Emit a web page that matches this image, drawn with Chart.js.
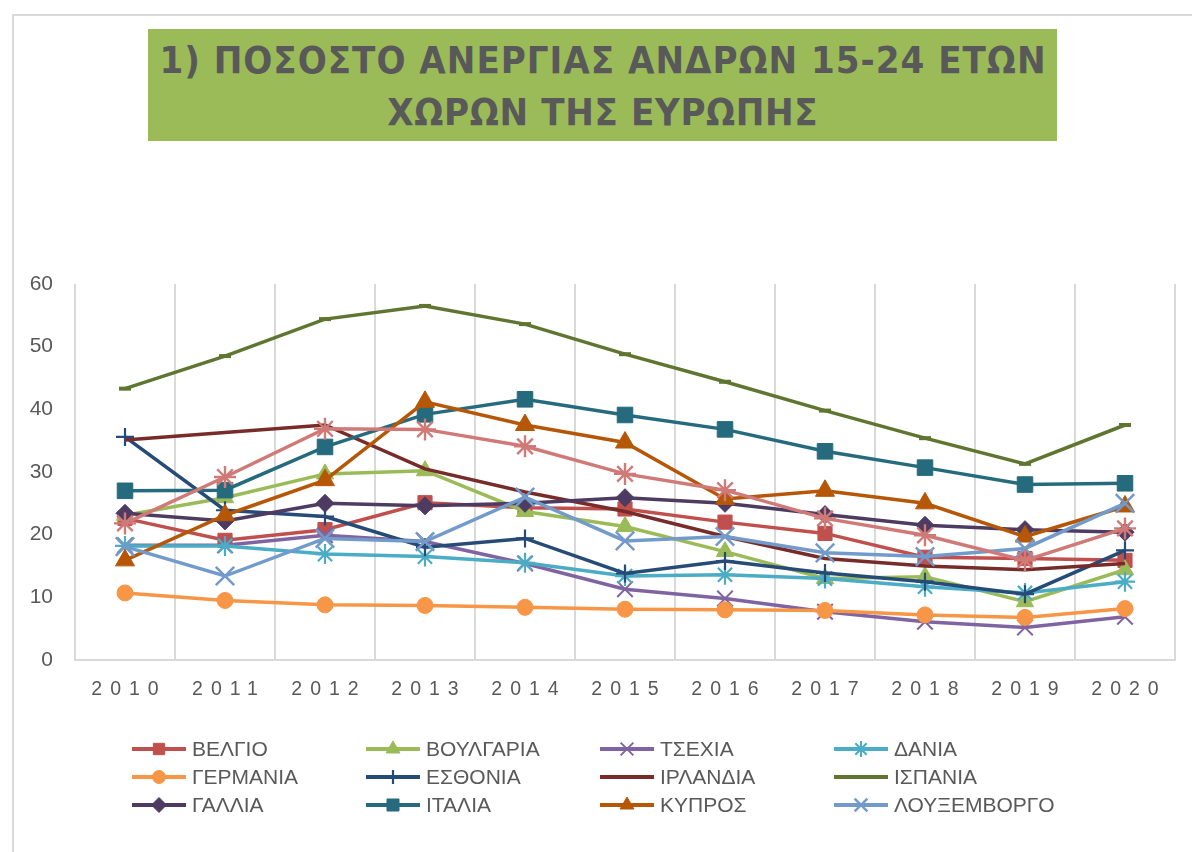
<!DOCTYPE html>
<html>
<head>
<meta charset="utf-8">
<script src="https://cdn.jsdelivr.net/npm/chart.js@4.4.0/dist/chart.umd.min.js"></script>
<style>
  html, body { margin: 0; padding: 0; background: #ffffff; overflow: hidden; }
  #wrap { position: relative; width: 1192px; height: 852px; }
  #frame { position: absolute; left: 12px; top: 14px; width: 1300px; height: 900px; border: 2px solid #D9D9D9; box-sizing: border-box; }
  #titlebox { position: absolute; left: 148px; top: 29px; width: 909px; height: 112px; background: #9BBB59; }
  #title { position: absolute; left: 148px; top: 34px; width: 909px; text-align: center;
           font-family: "DejaVu Sans Condensed", "DejaVu Sans", sans-serif; font-stretch: condensed;
           font-weight: bold; font-size: 38px; line-height: 52px; color: #595959; white-space: nowrap; }
  #title span { display: inline-block; }
  canvas { position: absolute; left: 0; top: 0; }
</style>
</head>
<body>
<div id="wrap">
  <div id="frame"></div>
  <div id="titlebox"></div>
  <div id="title"><span id="t1">1) ΠΟΣΟΣΤΟ ΑΝΕΡΓΙΑΣ ΑΝΔΡΩΝ 15-24 ΕΤΩΝ</span><br><span id="t2">ΧΩΡΩΝ ΤΗΣ ΕΥΡΩΠΗΣ</span></div>
  <canvas id="c" width="1192" height="852"></canvas>
</div>
<script>
// ---- data ----
const years = ['2010','2011','2012','2013','2014','2015','2016','2017','2018','2019','2020'];
const yTicks = [0, 10, 20, 30, 40, 50, 60];

const belgio      = [22.6, 19.1, 20.8, 25.1, 24.3, 24.1, 22.0, 20.2, 16.4, 16.2, 15.9];
const voulgaria   = [23.1, 25.9, 29.7, 30.2, 23.7, 21.3, 17.3, 13.0, 13.3, 9.3, 14.4];
const tsexia      = [18.3, 18.3, 19.9, 18.9, 15.4, 11.3, 9.8, 7.7, 6.1, 5.2, 6.9];
const dania       = [18.2, 18.2, 16.9, 16.5, 15.5, 13.4, 13.6, 13.0, 11.7, 10.7, 12.5];
const germania    = [10.7, 9.5, 8.8, 8.7, 8.4, 8.1, 8.0, 7.9, 7.2, 6.8, 8.2];
const esthonia    = [35.6, 23.9, 22.9, 18.0, 19.4, 13.8, 15.8, 13.9, 12.5, 10.5, 17.5];
const irlandia    = [35.1, 36.3, 37.5, 30.5, 26.8, 23.7, 19.7, 16.2, 15.0, 14.4, 15.4];
const ispania     = [43.3, 48.5, 54.4, 56.5, 53.6, 48.8, 44.4, 39.8, 35.4, 31.3, 37.5];
const gallia      = [23.4, 22.2, 25.0, 24.6, 25.0, 25.9, 25.0, 23.2, 21.5, 20.8, 20.4];
const italia      = [27.0, 27.1, 34.0, 39.2, 41.6, 39.1, 36.8, 33.3, 30.7, 28.0, 28.2];
const kypros      = [15.9, 23.1, 28.7, 41.2, 37.5, 34.7, 25.7, 27.0, 25.0, 19.7, 24.5];
const louxemvorgo = [18.1, 13.4, 19.4, 18.9, 26.0, 19.0, 19.7, 17.1, 16.5, 17.8, 25.0];
const series13    = [21.8, 29.2, 36.9, 36.8, 34.1, 29.7, 27.1, 22.6, 19.9, 15.9, 21.0]; // not shown in legend

const seriesNames = ['ΒΕΛΓΙΟ','ΒΟΥΛΓΑΡΙΑ','ΤΣΕΧΙΑ','ΔΑΝΙΑ','ΓΕΡΜΑΝΙΑ','ΕΣΘΟΝΙΑ','ΙΡΛΑΝΔΙΑ','ΙΣΠΑΝΙΑ','ΓΑΛΛΙΑ','ΙΤΑΛΙΑ','ΚΥΠΡΟΣ','ΛΟΥΞΕΜΒΟΡΓΟ',''];
const seriesValues = [belgio, voulgaria, tsexia, dania, germania, esthonia, irlandia, ispania, gallia, italia, kypros, louxemvorgo, series13];

// ---- styles ----
const styles = [
  {c:'#C0504D', p:'rect',     r:10, bw:1,   lr:8},
  {c:'#9BBB59', p:'triangle', r:10, bw:1,   lr:8},
  {c:'#8064A2', p:'crossRot', r:11, bw:2,   lr:9},
  {c:'#4BACC6', p:'star',     r:10, bw:2.2, lr:8},
  {c:'#F79646', p:'circle',   r:8,  bw:1,   lr:6.5},
  {c:'#264B77', p:'cross',    r:9,  bw:2.2, lr:7},
  {c:'#772C2A', p:'circle',   r:0,  bw:0,   lr:0},
  {c:'#5F7530', p:'line',     r:6,  bw:4,   lr:0},
  {c:'#4D3B62', p:'rectRot',  r:9,  bw:1,   lr:7.5},
  {c:'#266B7D', p:'rect',     r:11, bw:1,   lr:8.5},
  {c:'#B65708', p:'triangle', r:11, bw:1,   lr:8},
  {c:'#729ACA', p:'crossRot', r:13, bw:2.5, lr:9},
  {c:'#D07A78', p:'star',     r:11, bw:2.4, lr:8}
];

const n = seriesValues.length;
const datasets = seriesValues.map((vals, i) => ({
  label: seriesNames[i],
  data: vals,
  borderColor: styles[i].c,
  backgroundColor: styles[i].c,
  pointBackgroundColor: styles[i].c,
  pointBorderColor: styles[i].c,
  pointStyle: styles[i].p,
  pointRadius: styles[i].r,
  pointHoverRadius: styles[i].r,
  pointBorderWidth: styles[i].bw,
  borderWidth: 3.5,
  tension: 0,
  fill: false,
  order: n - i
}));

const textColor = '#595959';
const axisFont = '"Liberation Sans", Arial, sans-serif';

const legendPlugin = {
  id: 'gridLegend',
  beforeDraw(chart) {
    const xs = chart.scales.x;
    if (xs && !xs._spaced) {
      const orig = xs.drawLabels.bind(xs);
      xs.drawLabels = function(area) {
        const c = this.ctx;
        c.save();
        c.letterSpacing = '8px';
        c.translate(4, 0);
        orig(area);
        c.restore();
      };
      xs._spaced = true;
    }
  },
  afterDraw(chart) {
    const ctx = chart.ctx;
    const dp = Chart.helpers && Chart.helpers.drawPoint;
    const colX = [132, 366, 600, 834];
    const rowY = [749, 777, 805];
    let k = 0;
    chart.data.datasets.forEach((ds, i) => {
      if (!ds.label) return;
      const col = k % 4, row = Math.floor(k / 4);
      k++;
      const x0 = colX[col], y = rowY[row];
      ctx.save();
      ctx.strokeStyle = ds.borderColor;
      ctx.fillStyle = ds.borderColor;
      ctx.lineWidth = 4;
      ctx.lineCap = 'butt';
      ctx.beginPath();
      ctx.moveTo(x0, y);
      ctx.lineTo(x0 + 54, y);
      ctx.stroke();
      const st = styles[i];
      if (dp && st.lr > 0) {
        ctx.lineWidth = st.bw;
        dp(ctx, {pointStyle: st.p, rotation: 0, radius: st.lr, borderWidth: st.bw}, x0 + 27, y);
      }
      ctx.fillStyle = textColor;
      ctx.font = '21px ' + axisFont;
      ctx.textBaseline = 'middle';
      ctx.textAlign = 'left';
      ctx.fillText(ds.label, x0 + 60, y + 1);
      ctx.restore();
    });
  }
};

new Chart(document.getElementById('c'), {
  type: 'line',
  data: { labels: years, datasets: datasets },
  options: {
    responsive: false,
    animation: false,
    events: [],
    layout: { padding: { left: 0, top: 284, right: 17, bottom: 147 } },
    plugins: { legend: { display: false }, tooltip: { enabled: false }, title: { display: false } },
    scales: {
      x: {
        type: 'category',
        offset: true,
        grid: { display: true, offset: true, color: '#D9D9D9', lineWidth: 2, drawTicks: false },
        border: { display: true, color: '#D9D9D9', width: 2 },
        ticks: { color: textColor, font: { family: axisFont, size: 19.5 }, padding: 18, maxRotation: 0, autoSkip: false },
        afterFit(s) { s.height = 45; }
      },
      y: {
        min: 0, max: 60,
        grid: { display: false, drawTicks: false },
        border: { display: false },
        afterBuildTicks(s) { s.ticks = yTicks.map(v => ({ value: v })); },
        ticks: { color: textColor, font: { family: axisFont, size: 21 }, padding: 22 },
        afterFit(s) { s.width = 75; }
      }
    }
  },
  plugins: [legendPlugin]
});

// fit title letter spacing to the reference widths
function fitTitle() {
  const t1 = document.getElementById('t1'), t2 = document.getElementById('t2');
  [[t1, 887], [t2, 431]].forEach(([el, target]) => {
    el.style.letterSpacing = '0px';
    const w = el.getBoundingClientRect().width;
    const chars = el.textContent.length;
    const ls = (target - w) / chars;
    el.style.letterSpacing = ls.toFixed(2) + 'px';
    el.style.marginRight = (-ls).toFixed(2) + 'px';
  });
}
fitTitle();
</script>
</body>
</html>
